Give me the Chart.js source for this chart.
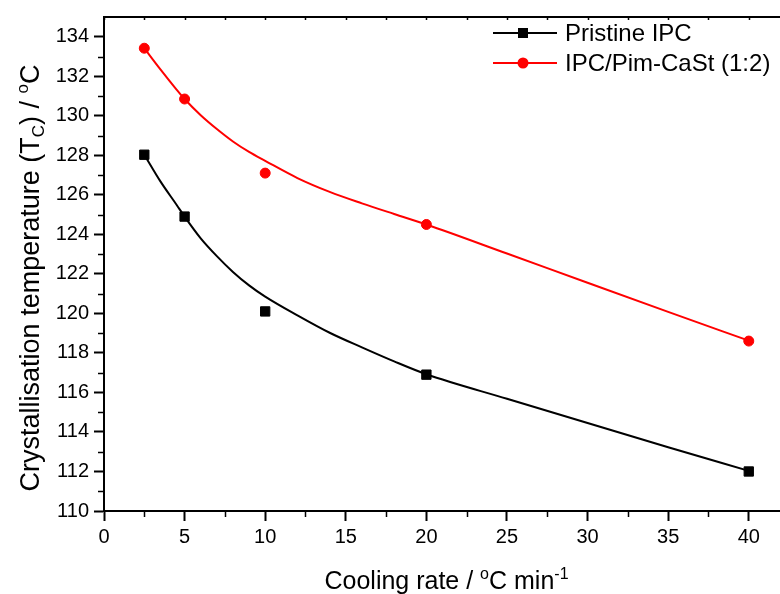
<!DOCTYPE html>
<html>
<head>
<meta charset="utf-8">
<script src="https://cdn.jsdelivr.net/npm/chart.js@4/dist/chart.umd.min.js"></script>
<style>
  html, body { margin: 0; padding: 0; background: #fff; overflow: hidden; }
  #wrap { width: 780px; height: 594px; overflow: hidden; }
</style>
</head>
<body>
<div id="wrap"><canvas id="chart" width="800" height="594"></canvas></div>
<script>
// measured points (cooling rate in °C/min, Tc in °C)
const coolingRate = [2.5, 5, 10, 20, 40];
const tcPristine = [128.03, 124.9, 120.1, 116.9, 112.0];
const tcCaSt = [133.42, 130.85, 127.1, 124.5, 118.6];

// fitted curves
const fitRate = [2.5, 3.5, 4.5, 5, 6, 7, 8, 9, 10, 12, 14, 16, 18, 20, 25, 30, 35, 40];
const fitPristine = [128.03, 126.68, 125.5, 124.9, 123.8, 122.9, 122.1, 121.42, 120.85, 119.9, 119.02, 118.28, 117.57, 116.92, 115.68, 114.45, 113.23, 112.03];
const fitCaSt = [133.42, 132.35, 131.33, 130.85, 130.03, 129.33, 128.7, 128.17, 127.72, 126.85, 126.15, 125.57, 125.03, 124.5, 123.03, 121.55, 120.08, 118.62];

const xTicks = [0, 5, 10, 15, 20, 25, 30, 35, 40];
const xMinor = [2.5, 7.5, 12.5, 17.5, 22.5, 27.5, 32.5, 37.5];
const yTicks = [110, 112, 114, 116, 118, 120, 122, 124, 126, 128, 130, 132, 134];
const yMinor = [111, 113, 115, 117, 119, 121, 123, 125, 127, 129, 131, 133];

const FONT = "'Liberation Sans', Arial, sans-serif";
const pts = (xs, ys) => xs.map((x, i) => ({ x, y: ys[i] }));

// draws text made of normal / sub / superscript pieces, centred on cx
function richText(ctx, parts, cx, cy, size) {
  const fontOf = p => (p.small ? Math.round(size * 0.62) : size) + 'px ' + FONT;
  let total = 0;
  parts.forEach(p => { ctx.font = fontOf(p); total += ctx.measureText(p.t).width; });
  let x = cx - total / 2;
  ctx.textBaseline = 'alphabetic';
  ctx.textAlign = 'left';
  parts.forEach(p => {
    ctx.font = fontOf(p);
    ctx.fillText(p.t, x, cy + (p.dy || 0));
    x += ctx.measureText(p.t).width;
  });
}

const decor = {
  id: 'decor',
  afterDraw(chart) {
    const { ctx, chartArea: a, scales: { x, y } } = chart;
    ctx.save();
    ctx.strokeStyle = '#000';
    ctx.fillStyle = '#000';
    // top frame line
    ctx.lineWidth = 2;
    ctx.beginPath();
    ctx.moveTo(a.left - 1, a.top);
    ctx.lineTo(a.right, a.top);
    ctx.stroke();
    // minor ticks
    ctx.lineWidth = 1.5;
    ctx.beginPath();
    xMinor.forEach(v => {
      const px = Math.round(x.getPixelForValue(v)) + 0.5;
      ctx.moveTo(px, a.bottom); ctx.lineTo(px, a.bottom + 6);
    });
    yMinor.forEach(v => {
      const py = Math.round(y.getPixelForValue(v)) + 0.5;
      ctx.moveTo(a.left, py); ctx.lineTo(a.left - 6, py);
    });
    // small ticks on the top frame
    xTicks.concat(xMinor).forEach(v => {
      const px = Math.round(x.getPixelForValue(v)) + 0.5;
      ctx.moveTo(px, a.top); ctx.lineTo(px, a.top + 3);
    });
    ctx.stroke();

    // axis titles
    richText(ctx, [
      { t: 'Cooling rate / ' }, { t: 'o', small: true, dy: -10 }, { t: 'C min' }, { t: '-1', small: true, dy: -10 }
    ], (a.left + a.right) / 2 + 4, 589, 25);
    ctx.save();
    ctx.translate(39, 278);
    ctx.rotate(-Math.PI / 2);
    richText(ctx, [
      { t: 'Crystallisation temperature (T' }, { t: 'C', small: true, dy: 5 }, { t: ') / ' },
      { t: 'o', small: true, dy: -11 }, { t: 'C' }
    ], 0, 0, 27);
    ctx.restore();

    // legend: line with marker, then label
    const rows = [chart.data.datasets[0], chart.data.datasets[1]];
    rows.forEach((ds, i) => {
      const ly = 33 + i * 30;
      ctx.strokeStyle = ds.borderColor;
      ctx.lineWidth = 2;
      ctx.beginPath();
      ctx.moveTo(493, ly); ctx.lineTo(557, ly);
      ctx.stroke();
      ctx.fillStyle = ds.backgroundColor;
      if (ds.pointStyle === 'rect') {
        ctx.fillRect(518, ly - 5, 10, 10);
      } else {
        ctx.beginPath(); ctx.arc(523, ly, 5.5, 0, Math.PI * 2); ctx.fill();
      }
      ctx.fillStyle = '#000';
      ctx.font = '24px ' + FONT;
      ctx.textBaseline = 'middle';
      ctx.textAlign = 'left';
      ctx.fillText(ds.label, 565, ly + 1);
    });
    ctx.restore();
  }
};

new Chart(document.getElementById('chart'), {
  type: 'scatter',
  data: {
    datasets: [
      { label: 'Pristine IPC', data: pts(coolingRate, tcPristine), pointStyle: 'rect', pointRadius: 6.6,
        backgroundColor: '#000', borderColor: '#000', borderWidth: 1, showLine: false, order: 0 },
      { label: 'IPC/Pim-CaSt (1:2)', data: pts(coolingRate, tcCaSt), pointStyle: 'circle', pointRadius: 5,
        backgroundColor: '#ff0000', borderColor: '#ff0000', borderWidth: 1, showLine: false, order: 0 },
      { label: 'fit1', data: pts(fitRate, fitPristine), showLine: true, pointRadius: 0, borderColor: '#000',
        borderWidth: 2, cubicInterpolationMode: 'monotone', order: 1 },
      { label: 'fit2', data: pts(fitRate, fitCaSt), showLine: true, pointRadius: 0, borderColor: '#ff0000',
        borderWidth: 2, cubicInterpolationMode: 'monotone', order: 1 }
    ]
  },
  options: {
    responsive: false,
    animation: false,
    devicePixelRatio: 1,
    layout: { padding: { top: 12, right: 19, left: 0, bottom: 0 } },
    plugins: { legend: { display: false }, tooltip: { enabled: false } },
    scales: {
      x: {
        type: 'linear', min: 0, max: 42,
        afterBuildTicks: s => { s.ticks = xTicks.map(v => ({ value: v })); },
        afterFit: s => { s.height = 83; },
        grid: { drawOnChartArea: false, drawTicks: true, tickLength: 10, tickColor: '#000', tickWidth: 2 },
        border: { display: true, color: '#000', width: 2 },
        ticks: { color: '#000', padding: 4, maxRotation: 0, font: { family: FONT, size: 20 } }
      },
      y: {
        type: 'linear', min: 110, max: 135,
        afterBuildTicks: s => { s.ticks = yTicks.map(v => ({ value: v })); },
        afterFit: s => { s.width = 104; },
        grid: { drawOnChartArea: false, drawTicks: true, tickLength: 10, tickColor: '#000', tickWidth: 2 },
        border: { display: true, color: '#000', width: 2 },
        ticks: { color: '#000', padding: 5, font: { family: FONT, size: 20 } }
      }
    }
  },
  plugins: [decor]
});
</script>
</body>
</html>
